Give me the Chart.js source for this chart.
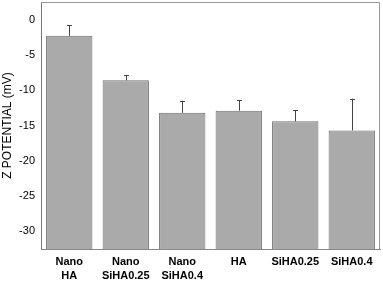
<!DOCTYPE html>
<html>
<head>
<meta charset="utf-8">
<script src="https://cdn.jsdelivr.net/npm/chart.js@4/dist/chart.umd.min.js"></script>
<style>
  html, body { margin: 0; padding: 0; background: #fff; }
  #wrap { width: 383px; height: 282px; }
</style>
</head>
<body>
<div id="wrap"><canvas id="grafica" width="383" height="282"></canvas></div>
<script>
const categorias = [["Nano", "HA"], ["Nano", "SiHA0.25"], ["Nano", "SiHA0.4"], "HA", "SiHA0.25", "SiHA0.4"];
const potencial = [-2.3, -8.6, -13.2, -12.9, -14.4, -15.7];
const errores = [1.5, 0.7, 1.7, 1.45, 1.55, 4.5];
const yMin = -32.5;
const yMax = 2.5;

// marco superior/derecho y barras de error
const marco = {
  id: "marco",
  afterDatasetsDraw(chart) {
    const { ctx, chartArea: a, scales } = chart;
    const meta = chart.getDatasetMeta(0);
    ctx.save();
    ctx.strokeStyle = "#444";
    ctx.lineWidth = 1;
    meta.data.forEach((bar, i) => {
      const yTop = scales.y.getPixelForValue(potencial[i] + errores[i]);
      const yBar = scales.y.getPixelForValue(potencial[i]);
      const x = Math.round(bar.x) + 0.5;
      ctx.beginPath();
      ctx.moveTo(x, yBar);
      ctx.lineTo(x, yTop);
      ctx.moveTo(x - 2.5, Math.round(yTop) + 0.5);
      ctx.lineTo(x + 2.5, Math.round(yTop) + 0.5);
      ctx.stroke();
    });
    ctx.strokeStyle = "#999";
    ctx.beginPath();
    ctx.moveTo(a.left, a.top + 0.5);
    ctx.lineTo(a.right - 0.5, a.top + 0.5);
    ctx.lineTo(a.right - 0.5, a.bottom);
    ctx.stroke();
    ctx.restore();
  }
};

new Chart(document.getElementById("grafica").getContext("2d"), {
  type: "bar",
  data: {
    labels: categorias,
    datasets: [{
      data: potencial,
      base: yMin,
      backgroundColor: "#aaaaaa",
      borderColor: "#6e6e6e",
      borderWidth: 1,
      barPercentage: 0.82,
      categoryPercentage: 1
    }]
  },
  options: {
    responsive: false,
    animation: false,
    layout: { padding: { top: 2, right: 3, left: 0, bottom: 0 } },
    plugins: { legend: { display: false }, tooltip: { enabled: false } },
    scales: {
      x: {
        grid: { display: false, drawTicks: false },
        border: { color: "#888", width: 1 },
        ticks: {
          color: "#000",
          maxRotation: 0,
          autoSkip: false,
          padding: 6,
          font: { family: "Liberation Sans, Arial", size: 11, weight: "bold", lineHeight: 1.3 }
        },
        afterFit: s => { s.height = 33; }
      },
      y: {
        min: yMin,
        max: yMax,
        grid: { display: false, drawOnChartArea: false, drawTicks: true, tickLength: 4, tickColor: "#777" },
        border: { color: "#777", width: 1 },
        ticks: {
          stepSize: 2.5,
          color: "#000",
          padding: 2,
          font: { family: "Liberation Sans, Arial", size: 11 },
          callback: v => (v % 5 === 0 ? v : "")
        },
        title: {
          display: true,
          text: "Z POTENTIAL (mV)",
          color: "#000",
          padding: 0,
          font: { family: "Liberation Sans, Arial", size: 12 }
        },
        afterFit: s => { s.width = 41; s.paddingTop = 0; s.paddingBottom = 0; }
      }
    }
  },
  plugins: [marco]
});
</script>
</body>
</html>
